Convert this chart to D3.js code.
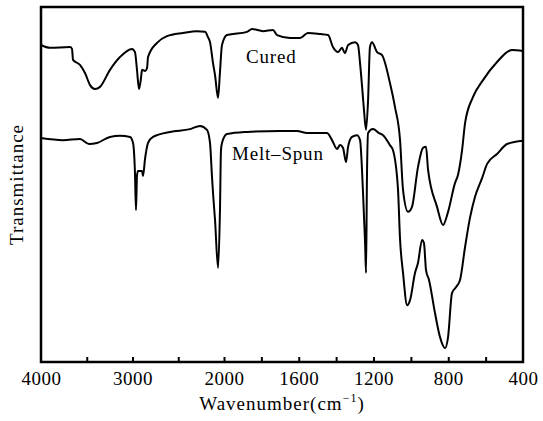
<!DOCTYPE html>
<html><head><meta charset="utf-8">
<script src="https://cdn.jsdelivr.net/npm/d3@7"></script>
<style>body{margin:0;background:#fff}</style>
</head><body><svg id="c" width="543" height="421"></svg>
<script>
const curedWavenumber = [4000,3902,3683,3661,3650,3574,3519,3464,3410,3355,3246,3137,3005,2973,2951,2929,2907,2896,2863,2841,2830,2732,2623,2448,2295,2207,2175,2153,2120,2098,2065,2044,2022,1984,1877,1850,1791,1738,1716,1647,1593,1551,1486,1443,1417,1390,1369,1353,1336,1299,1283,1272,1261,1251,1240,1229,1219,1208,1181,1155,1112,1085,1058,1042,1015,994,962,935,919,908,860,828,801,764,748,726,710,668,614,539,459,400];
const curedT = [89.3,88.5,88.7,88.2,85.1,83.7,81.4,78.0,76.9,77.5,82.3,85.9,88.2,87.3,82.3,76.9,80.0,82.3,82.0,82.8,85.9,89.9,91.8,92.7,93.2,93.0,91.5,90.1,84.2,80.8,74.4,81.7,89.3,92.1,93.0,93.8,93.2,93.5,92.1,91.3,91.3,92.7,92.4,92.1,88.7,87.3,88.5,87.0,89.3,90.1,89.3,84.2,77.5,71.0,65.4,73.8,88.7,90.1,87.3,86.5,78.6,71.8,62.5,48.5,42.3,43.7,54.9,60.3,60.6,54.1,43.7,38.6,42.3,50.4,52.7,59.7,67.3,74.6,79.4,84.5,87.9,87.6];
const meltWavenumber = [4000,3760,3574,3475,3388,3246,3137,3027,2994,2973,2962,2951,2940,2896,2885,2863,2830,2776,2590,2371,2262,2186,2153,2131,2120,2098,2065,2044,2033,2022,1984,1877,1700,1609,1556,1449,1422,1395,1379,1363,1347,1336,1315,1288,1272,1256,1245,1240,1235,1229,1203,1171,1149,1112,1096,1069,1058,1042,1020,1004,978,962,940,930,919,903,871,844,817,801,780,758,737,710,683,657,619,592,539,485,400];
const meltT = [63.1,62.5,62.8,61.4,61.7,63.4,63.7,63.4,61.7,53.2,42.8,52.4,53.8,53.8,52.4,57.2,61.7,63.4,64.8,65.6,66.5,65.4,61.7,52.1,47.6,40.0,26.5,42.8,59.7,61.7,64.2,64.8,65.1,65.1,64.5,64.5,62.5,60.0,61.1,60.3,56.3,60.6,63.4,63.9,62.5,47.6,33.5,25.1,52.1,64.5,65.6,64.5,63.9,61.1,59.7,48.7,34.6,25.1,16.0,17.5,25.1,27.9,34.4,33.5,25.9,23.1,13.8,7.0,3.9,7.0,19.4,21.1,23.1,32.4,40.8,46.5,51.8,55.8,58.6,61.4,62.3];
const labeledTicks = [4000,3000,2000,1600,1200,800,400];
const minorTicks = [3500,3000,2500,2000,1800,1600,1400,1200,1000,800,600];
const seriesNames = ["Cured","Melt\u2013Spun"];
const seriesLabelPos = [[1882,84.2],[1957,56.9]];

const W = 543, H = 421;
const margin = {left:41, top:7, right:20, bottom:59};
const iw = W - margin.left - margin.right, ih = H - margin.top - margin.bottom;
const svg = d3.select("#c");
const g = svg.append("g").attr("transform", `translate(${margin.left},${margin.top})`);
const font = "'Liberation Serif','Times New Roman',serif";

const x = d3.scaleLinear().domain([4000,2000,400]).range([0,183,iw]);
const y = d3.scaleLinear().domain([0,100]).range([ih,0]);

const line = d3.line().x(d=>x(d[0])).y(d=>y(d[1])).curve(d3.curveMonotoneX);
const series = [d3.zip(curedWavenumber, curedT), d3.zip(meltWavenumber, meltT)];
g.selectAll("path.s").data(series).join("path").attr("class","s")
  .attr("d", line).attr("fill","none").attr("stroke","#000")
  .attr("stroke-width",2).attr("stroke-linejoin","round");

// minor ticks (inward)
const ax1 = g.append("g").attr("transform",`translate(0,${ih})`)
  .call(d3.axisBottom(x).tickValues(minorTicks).tickSize(-5).tickFormat(""));
ax1.select(".domain").remove();
ax1.selectAll("line").attr("stroke","#000").attr("stroke-width",2);
// labels
const ax2 = g.append("g").attr("transform",`translate(0,${ih})`)
  .call(d3.axisBottom(x).tickValues(labeledTicks).tickSize(0).tickPadding(10).tickFormat(d3.format("d")));
ax2.select(".domain").remove();
ax2.selectAll("text").attr("font-family",font).attr("font-size",19).attr("fill","#000").attr("letter-spacing","0.5px");

// frame
g.append("rect").attr("x",0).attr("y",0).attr("width",iw).attr("height",ih)
  .attr("fill","none").attr("stroke","#000").attr("stroke-width",2.5);

// series labels
g.selectAll("text.lab").data(seriesNames).join("text").attr("class","lab")
  .attr("x",(d,i)=>x(seriesLabelPos[i][0])).attr("y",(d,i)=>y(seriesLabelPos[i][1]))
  .attr("font-family",font).attr("font-size",19).attr("letter-spacing","0.8px").text(d=>d);

// axis titles
const xt = svg.append("text").attr("x", margin.left + iw/2).attr("y", 410)
  .attr("text-anchor","middle").attr("font-family",font).attr("font-size",19).attr("letter-spacing","1px");
xt.append("tspan").text("Wavenumber(cm");
xt.append("tspan").attr("font-size",12).attr("dy",-8).text("\u22121");
xt.append("tspan").attr("dy",8).text(")");

svg.append("text").attr("transform",`translate(23,${margin.top+ih/2}) rotate(-90)`)
  .attr("text-anchor","middle").attr("font-family",font).attr("font-size",19).attr("letter-spacing","1px")
  .text("Transmittance");
</script></body></html>
